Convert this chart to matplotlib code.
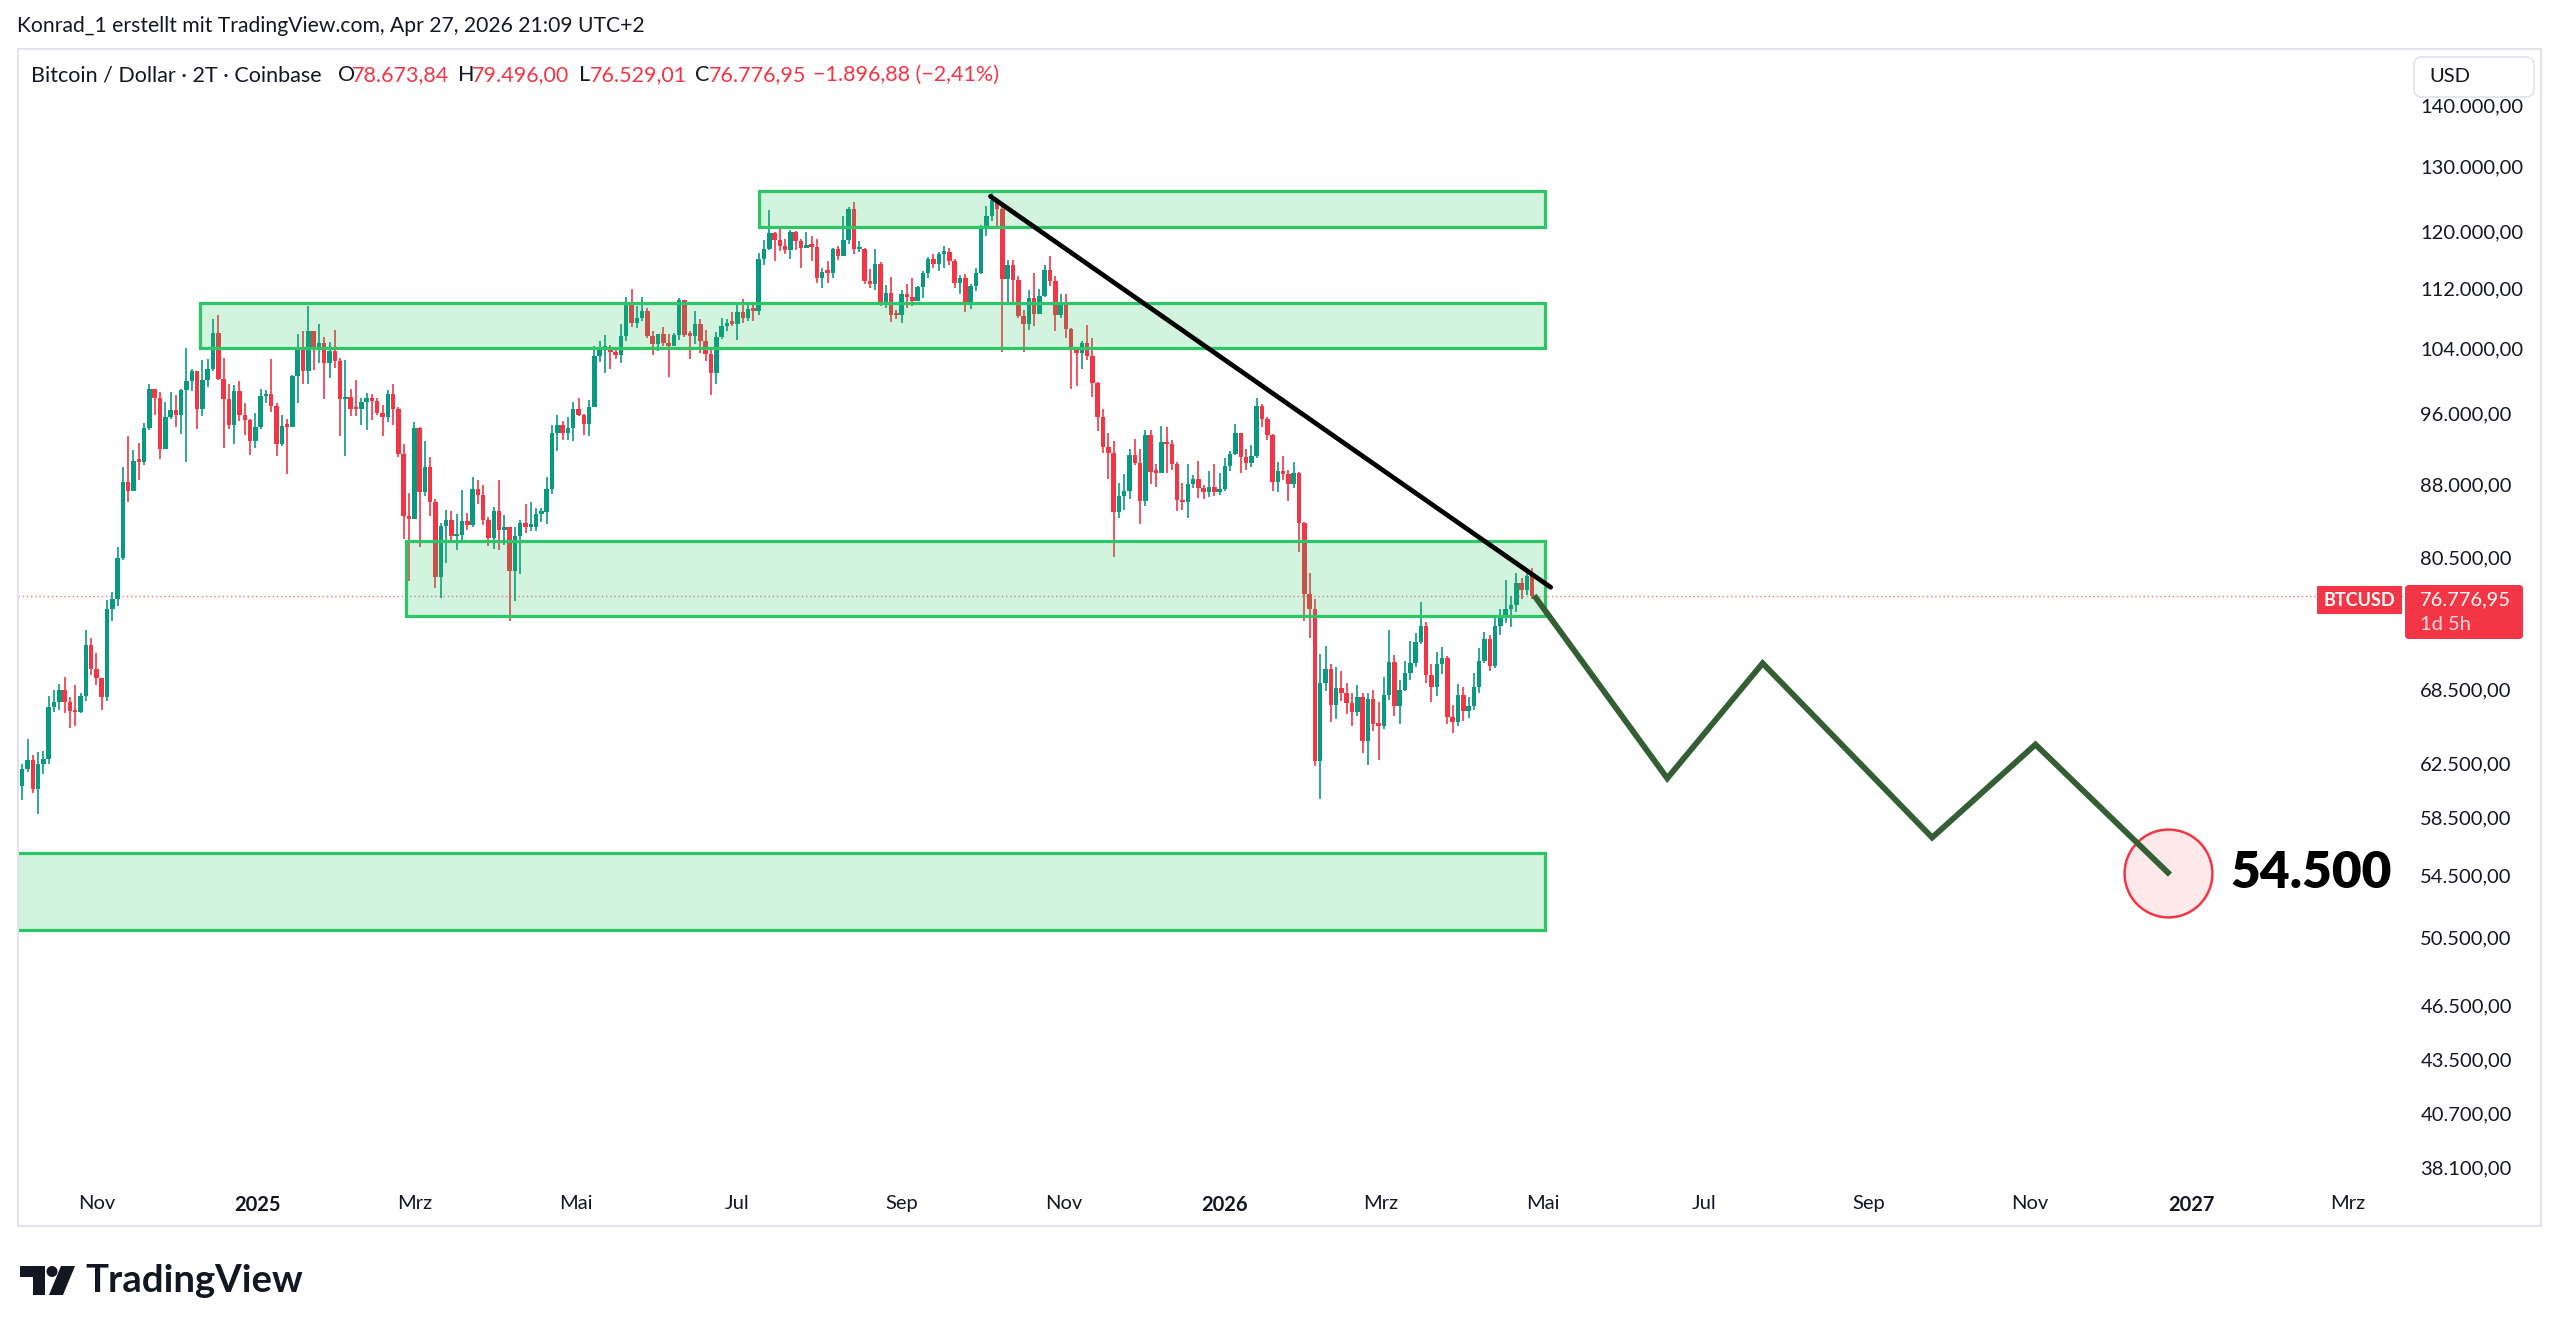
import numpy as np
import pandas as pd
import matplotlib
matplotlib.use("Agg")
import matplotlib.pyplot as plt
import matplotlib.dates as mdates
from matplotlib.ticker import FixedLocator, NullLocator
from matplotlib.patches import Rectangle, FancyBboxPatch, Polygon, Circle

# BTC/USD 2-day candles (prices in thousand USD), first candle opens 2024-10-04
first_open = 60.8
closes = [
    62.1, 62.8, 60.6, 62.5, 62.9, 67.0, 67.4, 68.4, 67.4, 66.7,
    66.6, 67.9, 72.3, 70.2, 69.4, 67.8, 75.6, 76.5, 80.4, 88.3,
    87.3, 90.6, 90.5, 94.3, 98.9, 97.9, 91.9, 95.6, 96.4, 95.9,
    98.8, 99.9, 101.2, 96.6, 100.0, 101.4, 106.0, 100.2, 97.8, 94.7,
    98.7, 95.8, 95.3, 92.8, 94.4, 98.1, 98.3, 96.9, 92.5, 94.6,
    94.5, 100.5, 104.1, 101.1, 106.2, 104.0, 104.7, 102.1, 103.7, 102.4,
    97.7, 98.0, 96.6, 96.5, 97.4, 97.9, 97.5, 96.1, 95.6, 98.3,
    96.6, 91.4, 84.7, 84.4, 94.3, 87.2, 89.9, 86.2, 78.6, 83.7,
    84.3, 82.6, 82.7, 84.2, 83.8, 87.5, 86.9, 84.3, 82.4, 85.2,
    83.2, 83.5, 79.2, 82.6, 84.0, 83.6, 83.6, 84.9, 85.1, 87.5,
    93.7, 94.7, 93.8, 94.3, 96.5, 95.9, 94.8, 96.8, 103.0, 104.0,
    104.2, 103.6, 103.2, 105.6, 109.7, 107.3, 108.0, 108.9, 105.6, 104.6,
    105.8, 104.7, 104.3, 105.7, 110.3, 105.7, 105.6, 107.1, 104.9, 103.3,
    100.9, 105.4, 106.9, 107.3, 107.2, 108.8, 108.0, 109.2, 108.9, 116.0,
    117.4, 119.8, 118.7, 117.9, 117.3, 119.9, 118.6, 117.6, 118.0, 117.8,
    113.3, 114.2, 114.1, 117.5, 116.5, 118.7, 123.3, 117.4, 117.5, 113.0,
    112.5, 115.4, 110.1, 111.3, 108.4, 108.3, 111.2, 110.7, 110.2, 112.1,
    114.0, 116.1, 115.3, 116.8, 117.1, 115.7, 112.7, 113.3, 109.7, 112.2,
    114.0, 120.5, 122.3, 124.8, 123.3, 113.2, 115.2, 113.1, 108.2, 107.2,
    110.6, 108.5, 110.9, 114.5, 112.9, 108.3, 110.1, 106.5, 103.9, 103.4,
    104.7, 103.0, 99.7, 95.6, 92.2, 91.5, 85.1, 86.8, 87.3, 91.3,
    90.4, 86.3, 93.5, 89.4, 89.3, 92.7, 92.5, 90.3, 86.4, 86.1,
    88.1, 88.6, 87.6, 87.2, 87.8, 87.2, 87.5, 90.0, 91.4, 93.7,
    91.0, 90.4, 91.2, 96.9, 95.4, 93.5, 88.3, 89.5, 89.2, 88.1,
    89.3, 84.0, 77.0, 75.6, 62.7, 69.0, 70.2, 67.2, 68.6, 68.2,
    67.3, 66.6, 67.8, 64.3, 67.7, 65.6, 65.5, 68.0, 70.8, 67.1,
    68.4, 69.9, 70.7, 72.6, 74.0, 69.7, 68.7, 70.6, 71.2, 66.2,
    65.8, 68.0, 66.7, 67.1, 68.7, 70.9, 72.8, 70.5, 74.0, 74.9,
    75.6, 75.9, 78.0, 77.3, 78.674, 76.777,
]
highs = [
    62.5, 64.4, 63.2, 63.4, 63.5, 67.9, 68.4, 68.9, 69.5, 67.8,
    68.8, 68.2, 73.6, 72.9, 71.6, 69.4, 76.4, 77.2, 81.5, 89.9,
    93.4, 91.8, 92.6, 94.9, 99.6, 99.0, 98.6, 97.4, 98.6, 98.2,
    99.0, 104.0, 101.4, 101.2, 102.5, 102.6, 107.8, 108.3, 102.8, 99.5,
    99.4, 99.9, 97.3, 95.4, 96.1, 98.9, 98.8, 102.7, 97.3, 95.9,
    95.4, 100.7, 105.9, 106.3, 109.6, 106.3, 107.1, 105.4, 104.8, 106.4,
    102.8, 102.5, 99.0, 100.1, 97.9, 98.5, 98.4, 97.9, 97.0, 98.8,
    99.5, 96.8, 92.5, 87.1, 95.0, 94.4, 92.8, 91.0, 86.5, 84.0,
    85.3, 85.2, 84.9, 87.4, 85.0, 88.8, 88.5, 88.0, 84.6, 85.6,
    88.5, 84.8, 83.6, 83.5, 84.3, 85.9, 86.1, 85.5, 85.5, 88.8,
    94.7, 95.8, 95.2, 95.6, 97.4, 97.9, 96.0, 97.6, 104.3, 104.9,
    105.7, 104.4, 104.0, 107.1, 110.8, 111.9, 109.5, 110.7, 109.3, 106.3,
    105.9, 106.8, 105.9, 106.0, 110.6, 110.4, 106.2, 108.9, 107.8, 106.4,
    103.9, 106.1, 108.0, 107.8, 108.8, 109.8, 110.5, 109.7, 109.7, 116.9,
    118.8, 123.2, 120.0, 120.9, 118.9, 120.2, 120.1, 118.9, 120.0, 119.3,
    118.9, 114.8, 115.7, 117.6, 117.9, 122.3, 123.7, 124.5, 118.6, 117.6,
    114.6, 117.4, 115.6, 112.4, 113.5, 109.0, 111.7, 112.6, 113.4, 112.3,
    114.3, 116.3, 116.8, 117.0, 117.9, 117.6, 116.1, 113.8, 113.9, 112.5,
    114.8, 121.0, 123.9, 126.2, 125.1, 123.8, 115.9, 115.9, 113.6, 109.0,
    111.7, 114.0, 111.8, 115.2, 116.4, 113.6, 111.2, 111.2, 106.6, 104.2,
    104.9, 107.0, 105.3, 99.8, 96.6, 93.8, 92.8, 88.2, 89.2, 91.9,
    93.1, 91.9, 94.1, 94.1, 90.3, 94.6, 94.5, 92.9, 90.5, 88.2,
    90.3, 89.1, 90.6, 88.0, 89.5, 90.3, 89.3, 90.9, 91.7, 94.8,
    93.8, 91.9, 92.4, 97.9, 97.2, 95.6, 93.6, 90.5, 91.1, 89.6,
    90.5, 89.4, 84.1, 79.0, 76.5, 71.5, 72.2, 70.6, 70.4, 70.0,
    69.0, 68.2, 68.8, 68.2, 68.2, 68.4, 67.4, 69.5, 73.6, 71.4,
    69.3, 70.9, 72.7, 73.4, 76.2, 74.4, 70.6, 71.7, 72.1, 71.3,
    67.2, 68.9, 68.7, 67.8, 69.9, 72.0, 73.5, 73.2, 74.8, 75.6,
    78.3, 76.8, 79.0, 78.5, 79.1, 79.496,
]
lows = [
    59.8, 61.9, 60.3, 58.8, 61.7, 62.5, 66.6, 66.8, 66.5, 65.3,
    65.5, 66.5, 67.5, 69.7, 68.8, 66.8, 67.5, 74.5, 75.8, 80.2,
    86.2, 87.3, 88.5, 90.2, 94.1, 95.8, 90.8, 91.9, 95.4, 94.4,
    93.6, 90.5, 98.7, 94.2, 95.7, 99.2, 101.2, 100.0, 92.1, 94.2,
    92.5, 95.2, 93.5, 91.3, 92.0, 94.2, 97.3, 96.2, 91.2, 92.3,
    89.2, 94.4, 97.3, 99.6, 99.5, 101.3, 102.2, 97.8, 100.3, 101.5,
    93.4, 91.2, 95.7, 95.7, 94.7, 94.1, 95.3, 95.9, 93.4, 95.0,
    94.7, 91.0, 82.3, 78.2, 84.4, 81.5, 86.8, 84.7, 77.5, 76.6,
    79.9, 82.0, 81.2, 81.9, 83.2, 83.6, 85.9, 83.8, 81.6, 81.3,
    81.2, 81.7, 74.5, 76.3, 78.9, 82.9, 83.1, 83.1, 84.1, 83.9,
    87.0, 91.7, 93.0, 92.9, 92.8, 95.7, 93.5, 93.4, 96.8, 102.3,
    100.9, 101.4, 102.6, 102.1, 104.9, 106.8, 106.6, 107.6, 105.3, 103.1,
    103.7, 104.3, 100.4, 104.3, 105.1, 105.4, 102.7, 104.5, 103.4, 102.4,
    98.2, 99.6, 105.2, 106.3, 106.9, 105.1, 107.3, 107.5, 107.5, 108.4,
    115.2, 117.3, 115.7, 117.2, 116.8, 116.1, 117.3, 114.7, 117.6, 115.8,
    112.7, 112.0, 112.7, 113.4, 115.9, 116.5, 118.2, 116.8, 117.1, 112.6,
    112.0, 111.7, 109.6, 109.3, 107.4, 107.8, 107.3, 109.3, 109.6, 110.2,
    110.6, 113.3, 114.8, 114.4, 114.7, 115.2, 112.0, 111.1, 108.7, 109.1,
    111.6, 113.9, 119.3, 121.6, 120.6, 103.6, 109.7, 109.9, 107.9, 103.5,
    106.4, 106.9, 108.9, 110.8, 112.2, 106.3, 107.9, 105.3, 98.9, 99.3,
    101.4, 102.5, 98.0, 94.0, 91.5, 88.6, 80.5, 84.5, 85.3, 86.5,
    90.2, 83.9, 85.7, 88.1, 87.8, 89.7, 89.3, 89.6, 85.2, 85.3,
    84.5, 87.6, 86.6, 86.5, 86.7, 86.8, 86.9, 87.3, 89.5, 91.3,
    89.3, 89.6, 89.9, 90.9, 94.5, 93.0, 87.3, 87.2, 88.5, 86.3,
    87.6, 81.0, 74.5, 72.9, 62.3, 59.9, 68.3, 65.8, 66.0, 67.5,
    66.4, 65.5, 66.3, 63.3, 62.4, 65.1, 62.8, 65.2, 67.6, 66.3,
    65.6, 68.3, 69.3, 70.4, 72.4, 69.0, 67.4, 67.9, 69.8, 65.6,
    64.9, 65.5, 65.9, 66.1, 66.8, 68.2, 70.7, 70.0, 70.3, 73.2,
    74.3, 73.9, 75.3, 76.5, 76.9, 76.529,
]
last_price = 76776.95

# support / resistance zones (thousand USD)
zone_starts = ["2025-07-09", "2024-12-10", "2025-02-26", "2024-09-01"]
zone_end = "2026-05-02"
zone_lows = [120.7, 104.1, 74.9, 51.0]
zone_highs = [126.2, 109.9, 82.1, 56.0]

# falling trend line
trend_dates = ["2025-10-04 12:00", "2026-05-04 00:00"]
trend_prices = [125.3, 77.6]

# projected path
path_dates = ["2026-04-28 10:00", "2026-06-17 00:00", "2026-07-23 00:00",
              "2026-09-25 00:00", "2026-11-03 00:00", "2026-12-23 00:00"]
path_prices = [76.6, 61.4, 70.7, 57.1, 64.0, 54.7]
target_label = "54.500"

# axes ticks
price_ticks = [140000, 130000, 120000, 112000, 104000, 96000, 88000, 80500, 68500,
               62500, 58500, 54500, 50500, 46500, 43500, 40700, 38100]
price_labels = ["140.000,00", "130.000,00", "120.000,00", "112.000,00", "104.000,00",
                "96.000,00", "88.000,00", "80.500,00", "68.500,00", "62.500,00",
                "58.500,00", "54.500,00", "50.500,00", "46.500,00", "43.500,00",
                "40.700,00", "38.100,00"]
month_ticks = ["2024-11-01", "2025-01-01", "2025-03-01", "2025-05-01", "2025-07-01",
               "2025-09-01", "2025-11-01", "2026-01-01", "2026-03-01", "2026-05-01",
               "2026-07-01", "2026-09-01", "2026-11-01", "2027-01-01", "2027-03-01"]
month_labels = ["Nov", "2025", "Mrz", "Mai", "Jul", "Sep", "Nov", "2026", "Mrz",
                "Mai", "Jul", "Sep", "Nov", "2027", "Mrz"]

UP = "#089981"
DOWN = "#f23645"
TXT = "#131722"
ZONE = "#22c55e"


def to_num(strings):
    return mdates.date2num([pd.Timestamp(s) for s in strings])


plt.rcParams['font.family'] = ['Lato', 'DejaVu Sans']

W, H = 2560, 1334
fig = plt.figure(figsize=(W / 100, H / 100), dpi=100)
fig.patch.set_facecolor("white")

# chart pane in pixel layout
pl, pr, pt, pb = 18, 2405, 49, 1185
ax = fig.add_axes([pl / W, 1 - pb / H, (pr - pl) / W, (pb - pt) / H])
ax.set_facecolor("none")

c = np.array(closes) * 1000
hi = np.array(highs) * 1000
lo = np.array(lows) * 1000
o = np.concatenate([[first_open * 1000], c[:-1]])
dates = pd.date_range("2024-10-04", periods=len(c), freq="2D")
x = mdates.date2num(dates)
up = c >= o
cols = np.where(up, UP, DOWN)

ax.vlines(x, lo, hi, colors=cols, lw=1.2, zorder=2)
body_lo = np.minimum(o, c)
body_h = np.maximum(np.abs(c - o), body_lo * 0.003)
ax.bar(x, body_h, bottom=body_lo, width=1.7, color=cols, linewidth=0, zorder=3)

# zones
x_end = to_num([zone_end])[0]
for s, zl, zh in zip(zone_starts, zone_lows, zone_highs):
    xs = to_num([s])[0]
    ax.add_patch(Rectangle((xs, zl * 1000), x_end - xs, (zh - zl) * 1000,
                           facecolor=ZONE, alpha=0.2, edgecolor="none", zorder=4))
    ax.add_patch(Rectangle((xs, zl * 1000), x_end - xs, (zh - zl) * 1000,
                           facecolor="none", edgecolor="#2dc565", lw=2.3, zorder=4))

# current price line
ax.axhline(last_price, color=DOWN, lw=1.0, linestyle=(0, (1, 2)), alpha=0.7, zorder=1)

# trend line
ax.plot(to_num(trend_dates), np.array(trend_prices) * 1000,
        color="black", lw=3.4, solid_capstyle="round", zorder=6)

# projection with target circle
px_ = to_num(path_dates)
py_ = np.array(path_prices) * 1000
ax.scatter([px_[-1]], [py_[-1]], s=4000, facecolor="#fde8ea", edgecolor=DOWN,
           linewidth=1.8, zorder=5)
ax.plot(px_, py_, color="#345e34", lw=4.2, solid_joinstyle="miter", zorder=6)
ax.annotate(target_label, xy=(px_[-1], py_[-1]), xytext=(45, 0),
            textcoords="offset points", ha="left", va="center",
            fontsize=37, fontweight="heavy", color="black", zorder=7)

# scales
d0 = pd.Timestamp("2025-01-01")
ax.set_xlim(mdates.date2num(d0 + pd.Timedelta(days=-90.6)),
            mdates.date2num(d0 + pd.Timedelta(days=810.5)))
ax.set_yscale("log")
ax.set_ylim(37300, 150100)

ax.yaxis.tick_right()
ax.yaxis.set_major_locator(FixedLocator(price_ticks))
ax.yaxis.set_minor_locator(NullLocator())
ax.set_yticklabels(price_labels)
ax.tick_params(axis="y", which="both", length=0, pad=11, labelsize=14.5, colors=TXT)

ax.set_xticks(to_num(month_ticks))
ax.set_xticklabels(month_labels)
ax.xaxis.set_minor_locator(NullLocator())
ax.tick_params(axis="x", which="both", length=0, pad=7, labelsize=14.5, colors=TXT)
for lab in ax.get_xticklabels():
    if lab.get_text().startswith("20"):
        lab.set_fontweight("bold")
for sp in ax.spines.values():
    sp.set_visible(False)

# overlay in pixel coordinates for the TradingView frame, header and labels
ov = fig.add_axes([0, 0, 1, 1])
ov.set_xlim(0, W)
ov.set_ylim(H, 0)
ov.axis("off")
ov.patch.set_visible(False)

ov.add_patch(Rectangle((18, 49), 2541 - 18, 1226 - 49, facecolor="none",
                       edgecolor="#e0e3eb", lw=1.5))

ov.text(17, 26, "Konrad_1 erstellt mit TradingView.com, Apr 27, 2026 21:09 UTC+2",
        fontsize=15.2, color=TXT, va="center", ha="left")

hy = 75
fs = 15.5
ov.text(31, hy, "Bitcoin / Dollar · 2T · Coinbase", fontsize=fs, color=TXT, va="center")
for lx, letter, vx, val in [(338, "O", 352, "78.673,84"), (458, "H", 472, "79.496,00"),
                            (579, "L", 590, "76.529,01"), (695, "C", 709, "76.776,95")]:
    ov.text(lx, hy, letter, fontsize=fs, color=TXT, va="center")
    ov.text(vx, hy, val, fontsize=fs, color=DOWN, va="center")
ov.text(813, hy, "\u22121.896,88 (\u22122,41%)", fontsize=fs, color=DOWN, va="center")

# USD box over the top price label
ov.add_patch(FancyBboxPatch((2414, 57), 120, 40, boxstyle="round,pad=0,rounding_size=8",
                            facecolor="white", edgecolor="#e0e3eb", lw=1.2, zorder=5))
ov.text(2429, 76, "USD", fontsize=14.5, color=TXT, va="center", zorder=6)

# last price labels
ov.add_patch(Rectangle((2317, 586), 85, 28, facecolor=DOWN, edgecolor="none", zorder=5))
ov.text(2359, 600, "BTCUSD", fontsize=13, color="white", fontweight="bold",
        ha="center", va="center", zorder=6)
ov.add_patch(FancyBboxPatch((2405, 585), 118, 54, boxstyle="round,pad=0,rounding_size=4",
                            facecolor=DOWN, edgecolor="none", zorder=5))
ov.text(2420, 600, "76.776,95", fontsize=14.5, color="white", va="center", zorder=6)
ov.text(2420, 625, "1d 5h", fontsize=14.5, color="#fdd7db", va="center", zorder=6)

# TradingView logo
ov.add_patch(Rectangle((20, 1266), 25, 11, facecolor=TXT, edgecolor="none"))
ov.add_patch(Rectangle((33, 1266), 12, 29, facecolor=TXT, edgecolor="none"))
ov.add_patch(Circle((52, 1271.5), 5.5, facecolor=TXT, edgecolor="none"))
ov.add_patch(Polygon([(61, 1266), (75, 1266), (63, 1295), (49, 1295)],
                     closed=True, facecolor=TXT, edgecolor="none"))
ov.text(85, 1281, "TradingView", fontsize=27.5, fontweight="bold", color=TXT, va="center")

fig.savefig("out.png", dpi=100, facecolor="white")
